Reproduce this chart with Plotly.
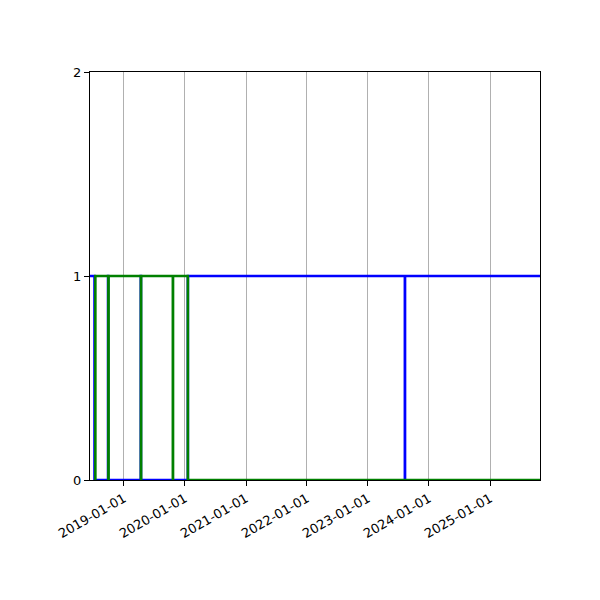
import plotly.graph_objects as go

# blue series (steps, value held until next date)
blue_dates = ["2018-06-12", "2018-07-09", "2018-09-28", "2018-09-29",
              "2019-04-12", "2019-04-13", "2020-01-19", "2023-08-10",
              "2023-08-11", "2025-10-27"]
blue_vals = [1, 0, 1, 0, 1, 0, 1, 0, 1, 1]

# green series
green_dates = ["2018-07-13", "2018-07-14", "2018-09-30", "2018-10-01",
               "2019-04-13", "2019-04-14", "2019-10-21", "2019-10-22",
               "2020-01-19", "2025-10-27"]
green_vals = [0, 1, 0, 1, 0, 1, 0, 1, 0, 0]

x_ticks = ["2019-01-01", "2020-01-01", "2021-01-01", "2022-01-01",
           "2023-01-01", "2024-01-01", "2025-01-01"]
y_ticks = [0, 1, 2]

fig = go.Figure()
fig.add_trace(go.Scatter(x=blue_dates, y=blue_vals, mode="lines",
                         line=dict(color="#0000ff", width=2.6, shape="hv"),
                         showlegend=False))
fig.add_trace(go.Scatter(x=green_dates, y=green_vals, mode="lines",
                         line=dict(color="#008000", width=2.6, shape="hv"),
                         showlegend=False))

axis_common = dict(showline=True, linecolor="black", linewidth=1.1, mirror=True,
                   ticks="outside", ticklen=5, tickwidth=1.1, tickcolor="black",
                   zeroline=False, layer="below traces")

fig.update_xaxes(range=["2018-06-12", "2025-10-27"], tickvals=x_ticks,
                 ticktext=x_ticks, tickangle=-30, showgrid=True,
                 gridcolor="#b0b0b0", gridwidth=1.1, **axis_common)
fig.update_yaxes(range=[0, 2], tickvals=y_ticks, showgrid=False, **axis_common)

fig.update_layout(
    width=600, height=600,
    margin=dict(l=82, r=68, t=64, b=128),
    plot_bgcolor="white", paper_bgcolor="white",
    font=dict(family="DejaVu Sans", size=13, color="black"),
)

fig.write_html("out.html")
